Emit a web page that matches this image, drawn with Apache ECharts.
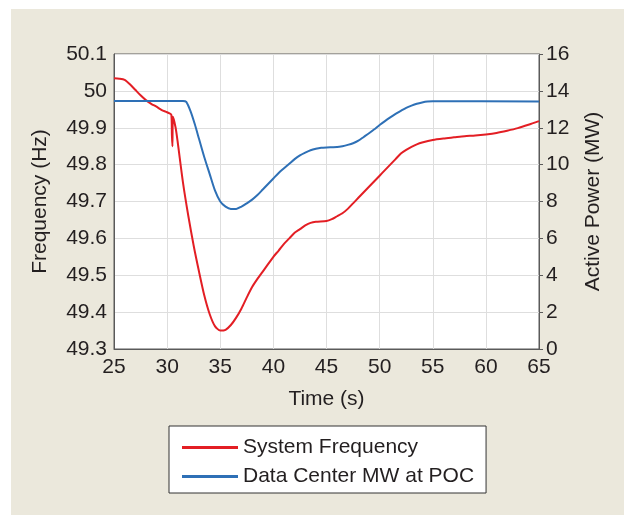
<!DOCTYPE html>
<html lang="en">
<head>
  <meta charset="UTF-8">
  <title>Frequency vs Data Center MW</title>
  <script src="https://cdn.jsdelivr.net/npm/echarts@6/dist/echarts.min.js"></script>
  <style>
    * {
      margin: 0;
      padding: 0;
    }
    body {
      background: #fff;
    }
    #bg {
      position: absolute;
      left: 11px;
      top: 9px;
      width: 613px;
      height: 506px;
      background-color: #ebe8dc;
    }
    #main {
      position: absolute;
      left: 0;
      top: 0;
      width: 624px;
      height: 515px;
    }
  </style>
</head>
<body>
  <div id="bg"></div>
  <div id="main"></div>

  <script>
    // time (s) and system frequency (Hz)
    var freqTime = [25, 25.5, 26, 26.5, 27, 27.5, 28, 28.5, 29, 29.5, 30, 30.4, 30.45, 30.5, 30.55, 30.8, 31,
      31.5, 32, 32.5, 33, 33.5, 34, 34.5, 35, 35.5, 36, 36.5, 37, 37.5, 38, 38.5, 39, 39.5, 40,
      40.5, 41, 41.5, 42, 42.5, 43, 43.5, 44, 45, 45.5, 46, 46.5, 47, 47.5, 48, 48.5, 49, 49.5,
      50, 50.5, 51, 51.5, 52, 52.5, 53, 53.5, 54, 55, 56, 57, 58, 59, 60, 61, 62, 63, 64, 65];
    var freqHz = [50.034, 50.033, 50.030, 50.018, 50.003, 49.988, 49.975, 49.965, 49.957, 49.948, 49.942, 49.935, 49.88, 49.85, 49.93, 49.90, 49.86,
      49.75, 49.66, 49.58, 49.51, 49.445, 49.395, 49.362, 49.35, 49.352, 49.365, 49.385, 49.41, 49.44, 49.468, 49.49, 49.51, 49.53, 49.55,
      49.567, 49.585, 49.60, 49.615, 49.625, 49.635, 49.642, 49.645, 49.647, 49.652, 49.66, 49.668, 49.68, 49.695, 49.71, 49.725, 49.74, 49.755,
      49.77, 49.785, 49.80, 49.815, 49.83, 49.84, 49.848, 49.855, 49.86, 49.867, 49.871, 49.874, 49.877, 49.879, 49.882, 49.886, 49.892, 49.899, 49.908, 49.918];

    // time (s) and data center active power (MW)
    var powerTime = [25, 31.5, 31.8, 32.2, 32.6, 33, 33.5, 34, 34.5, 35, 35.5, 36, 36.5, 37, 37.5, 38, 38.5, 39, 39.5, 40,
      40.5, 41, 41.5, 42, 42.5, 43, 43.5, 44, 44.5, 45, 45.5, 46, 46.5, 47, 47.5, 48, 48.5, 49, 49.5,
      50, 50.5, 51, 51.5, 52, 52.5, 53, 53.5, 54, 54.5, 55, 65];
    var powerMW = [13.45, 13.45, 13.4, 12.9, 12.2, 11.4, 10.4, 9.5, 8.6, 8.0, 7.72, 7.6, 7.6, 7.72, 7.9, 8.1, 8.35, 8.65, 8.95, 9.25,
      9.55, 9.8, 10.05, 10.3, 10.5, 10.65, 10.78, 10.86, 10.91, 10.93, 10.94, 10.95, 11.0, 11.07, 11.16, 11.3, 11.5, 11.7, 11.92,
      12.15, 12.36, 12.56, 12.75, 12.92, 13.08, 13.2, 13.3, 13.37, 13.42, 13.44, 13.43];

    var seriesNames = ['System Frequency', 'Data Center MW at POC'];

    function pairs(xs, ys) {
      return xs.map(function (x, i) { return [x, ys[i]]; });
    }

    var txt = '#231f20';
    var font = 'Liberation Sans';

    var myChart = echarts.init(document.getElementById('main'));
    var option = {
      animation: false,
      textStyle: { fontFamily: font, color: txt },
      grid: {
        left: 114, top: 54, right: 85, bottom: 166,
        show: true, backgroundColor: '#fff', borderColor: '#5a5a5a', borderWidth: 1
      },
      legend: {
        left: 169, top: 426,
        orient: 'vertical',
        padding: [11, 12, 6, 13],
        icon: 'rect',
        itemWidth: 56, itemHeight: 3, itemGap: 8,
        backgroundColor: '#fff', borderColor: '#333', borderWidth: 1,
        textStyle: { fontSize: 21, color: txt, fontFamily: font },
        data: seriesNames
      },
      xAxis: {
        type: 'value', min: 25, max: 65, interval: 5,
        name: 'Time (s)', nameLocation: 'middle', nameGap: 40,
        nameTextStyle: { fontSize: 21, color: txt },
        axisLine: { lineStyle: { color: '#5a5a5a' } },
        axisTick: { show: false },
        axisLabel: { fontSize: 21, color: txt, margin: 8 },
        splitLine: { lineStyle: { color: '#dedede' } }
      },
      yAxis: [{
        type: 'value', min: 49.3, max: 50.1, interval: 0.1,
        name: 'Frequency (Hz)', nameLocation: 'middle', nameGap: 63, nameRotate: 90,
        nameTextStyle: { fontSize: 21, color: txt },
        axisLine: { show: true, lineStyle: { color: '#5a5a5a' } },
        axisTick: { show: false },
        axisLabel: {
          fontSize: 21, color: txt, margin: 7,
          formatter: function (v) { return String(Math.round(v * 10) / 10); }
        },
        splitLine: { lineStyle: { color: '#dedede' } }
      }, {
        type: 'value', min: 0, max: 16, interval: 2, position: 'right',
        name: 'Active Power (MW)', nameLocation: 'middle', nameGap: 44, nameRotate: 90,
        nameTextStyle: { fontSize: 21, color: txt },
        axisLine: { show: true, lineStyle: { color: '#5a5a5a' } },
        axisTick: { show: true, length: 4, lineStyle: { color: '#5a5a5a' } },
        axisLabel: { fontSize: 21, color: txt, margin: 7 },
        splitLine: { show: false }
      }],
      series: [{
        name: seriesNames[0], type: 'line', yAxisIndex: 0,
        symbol: 'none', smooth: 0.25,
        lineStyle: { color: '#e31e24', width: 2 }, itemStyle: { color: '#e31e24' },
        data: pairs(freqTime, freqHz)
      }, {
        name: seriesNames[1], type: 'line', yAxisIndex: 1,
        symbol: 'none', smooth: 0.25,
        lineStyle: { color: '#2e70b6', width: 2 }, itemStyle: { color: '#2e70b6' },
        data: pairs(powerTime, powerMW)
      }]
    };
    myChart.setOption(option);
  </script>
</body>
</html>
